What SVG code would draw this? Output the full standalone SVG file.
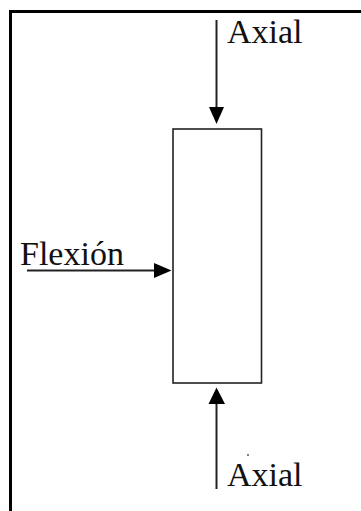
<svg xmlns="http://www.w3.org/2000/svg" width="361" height="511" viewBox="0 0 361 511">
  <defs>
    <style>
      .frame { fill: none; stroke: #000; stroke-width: 3; }
      .box { fill: #fff; stroke: #222; stroke-width: 1.6; }
      .conn { stroke: #222; stroke-width: 2; fill: none; }
      .head { fill: #000; }
      .lbl { font-family: "Liberation Serif", "Times New Roman", serif; font-size: 34px; fill: #111; }
    </style>
  </defs>
  <rect width="361" height="511" fill="#fff"/>
  <path class="frame" d="M10.5 515 V11.5 H365"/>
  <g id="column">
    <rect class="box" x="173" y="129" width="88.5" height="254"/>
  </g>
  <g id="connectors">
    <line class="conn" x1="216.5" y1="20" x2="216.5" y2="110"/>
    <polygon class="head" points="209,107 224,107 216.5,124"/>
    <line class="conn" x1="27" y1="270.5" x2="157" y2="270.5"/>
    <polygon class="head" points="154,263 154,278 171.5,270.5"/>
    <line class="conn" x1="216.5" y1="489" x2="216.5" y2="402"/>
    <polygon class="head" points="208.5,404 225,404 216.5,387.5"/>
  </g>
  <g id="label-axial-top">
    <text class="lbl" x="227" y="43">Axial</text>
  </g>
  <g id="label-flexion">
    <text class="lbl" x="20" y="265">Flexión</text>
  </g>
  <g id="label-axial-bottom">
    <text class="lbl" x="227" y="486">Axial</text>
    <circle cx="248" cy="455" r="0.9" fill="#444"/>
  </g>
</svg>
